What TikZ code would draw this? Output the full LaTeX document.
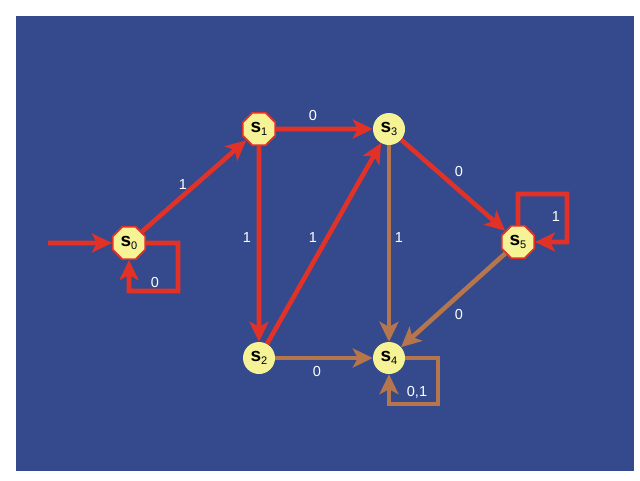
\documentclass[tikz,border=0pt]{standalone}
\usepackage{fontspec}
\setmainfont{Liberation Sans}
\usetikzlibrary{arrows.meta,shapes.geometric}
\definecolor{bgblue}{RGB}{52,74,140}
\definecolor{edgered}{RGB}{226,50,40}
\definecolor{edgebrown}{RGB}{181,118,77}
\definecolor{stateyellow}{RGB}{246,242,150}
\newcommand{\stlab}[1]{{\fontsize{19}{19}\selectfont\bfseries s}\raisebox{-3pt}{\fontsize{11}{11}\selectfont #1}}
\tikzset{
  statecirc/.style={circle,fill=stateyellow,minimum size=32pt,inner sep=0pt,text=black},
  stateoct/.style={regular polygon,regular polygon sides=8,fill=stateyellow,draw=edgered,line width=1.8pt,minimum size=35pt,inner sep=0pt,text=black},
  tr/.style={line width=4.6pt,line join=miter,-{Stealth[length=20pt,width=19pt,inset=5pt]}},
  redtr/.style={tr,draw=edgered},
  browntr/.style={tr,draw=edgebrown},
  elab/.style={text=white,font=\fontsize{14.5}{14.5}\selectfont,inner sep=0pt}
}
\begin{document}
\begin{tikzpicture}[x=1pt,y=-1pt]
\useasboundingbox (0,0) rectangle (640,480);
\fill[bgblue] (16,16) rectangle (634,471);
% states
\node[stateoct] (s0) at (129,243) {\stlab{0}};
\node[stateoct] (s1) at (259,129) {\stlab{1}};
\node[statecirc] (s3) at (389,129) {\stlab{3}};
\node[stateoct] (s5) at (518,242) {\stlab{5}};
\node[statecirc] (s2) at (259,358) {\stlab{2}};
\node[statecirc] (s4) at (389,358) {\stlab{4}};
% initial
\coordinate (init) at (48,243);
\draw[redtr] (init) -- (s0);
% loop corners
\coordinate (l0a) at (178,243);
\coordinate (l0b) at (178,291);
\coordinate (l0c) at (129,291);
\coordinate (l5a) at (518,194);
\coordinate (l5b) at (567,194);
\coordinate (l5c) at (567,242);
\coordinate (l4a) at (438,358);
\coordinate (l4b) at (438,404);
\coordinate (l4c) at (389,404);
% edges
\draw[redtr] (s0) -- (l0a) -- (l0b) -- (l0c) -- (s0);
\draw[redtr] (s0) -- (s1);
\draw[redtr] (s1) -- (s3);
\draw[redtr] (s1) -- (s2);
\draw[redtr] (s2) -- (s3);
\draw[redtr] (s3) -- (s5);
\draw[redtr] (s5) -- (l5a) -- (l5b) -- (l5c) -- (s5);
\draw[browntr] (s3) -- (s4);
\draw[browntr] (s2) -- (s4);
\draw[browntr] (s5) -- (s4);
\draw[browntr] (s4) -- (l4a) -- (l4b) -- (l4c) -- (s4);
% labels
\node[elab] (t00) at (155,283) {0};
\node[elab] (t01) at (183,185) {1};
\node[elab] (t13) at (313,116) {0};
\node[elab] (t12) at (247,238) {1};
\node[elab] (t23) at (313,238) {1};
\node[elab] (t34) at (399,238) {1};
\node[elab] (t35) at (459,172) {0};
\node[elab] (t55) at (556,217) {1};
\node[elab] (t54) at (459,315) {0};
\node[elab] (t24) at (317,372) {0};
\node[elab] (t44) at (417,392) {0,1};
\end{tikzpicture}
\end{document}
